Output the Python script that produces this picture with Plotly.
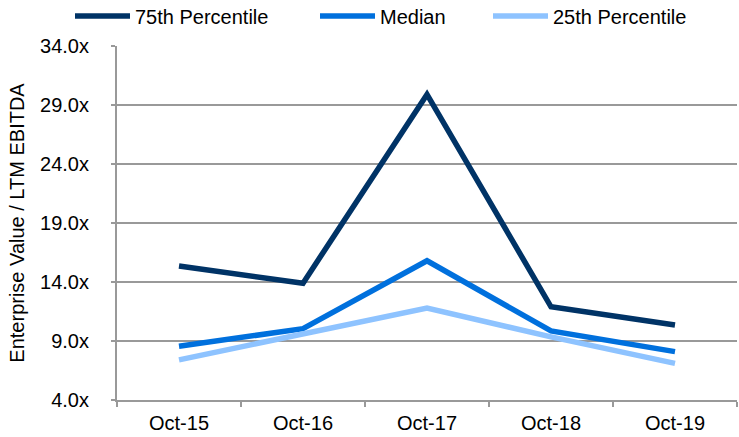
import plotly.graph_objects as go

categories = ["Oct-15", "Oct-16", "Oct-17", "Oct-18", "Oct-19"]
p75 = [15.35, 13.9, 29.9, 11.9, 10.35]
median = [8.55, 10.05, 15.8, 9.85, 8.1]
p25 = [7.4, 9.55, 11.8, 9.35, 7.1]
y_ticks = [4, 9, 14, 19, 24, 29, 34]

series = [
    ("75th Percentile", p75, "#003366", "legend", 70),
    ("Median", median, "#0070DD", "legend2", 315),
    ("25th Percentile", p25, "#8EC3FF", "legend3", 488),
]

W, H = 739, 437
T, B = 46, 37
fig = go.Figure()
legends = {}
for name, vals, color, leg, lx in series:
    fig.add_trace(go.Scatter(x=categories, y=vals, name=name, mode="lines",
                             line=dict(color=color, width=5.5), legend=leg))
    legends[leg] = dict(orientation="h", xref="container", x=lx / W, xanchor="left",
                        yref="container", y=1 - 16 / H, yanchor="middle",
                        font=dict(size=20), itemwidth=55,
                        bgcolor="rgba(0,0,0,0)")

fig.update_layout(
    width=W, height=H,
    margin=dict(l=117, r=2, t=T, b=B, autoexpand=False),
    paper_bgcolor="white", plot_bgcolor="white",
    font=dict(family="Liberation Sans, Arial, sans-serif", size=20, color="black"),
    showlegend=True,
    xaxis=dict(type="category", tickson="boundaries", ticks="outside", ticklen=5,
               tickcolor="#999999", tickwidth=1.5, showline=True, linecolor="#999999", linewidth=2,
               showgrid=False, range=[-0.5, 4.5], tickfont=dict(size=20),
               ticklabelstandoff=4),
    yaxis=dict(range=[4, 34], tickvals=y_ticks, ticktext=[f"{v:.1f}x" for v in y_ticks],
               showgrid=True, gridcolor="#999999", gridwidth=1.5,
               showline=True, linecolor="#999999", linewidth=2,
               ticks="outside", ticklen=4, tickcolor="#999999", tickwidth=1.5,
               ticklabelstandoff=18,
               title=dict(text="Enterprise Value / LTM EBITDA", font=dict(size=20), standoff=10),
               zeroline=False, tickfont=dict(size=20)),
    **legends,
)

fig.write_html("out.html", config={"displayModeBar": False},
               post_script="document.body.style.margin='0';document.body.style.overflow='hidden';")
